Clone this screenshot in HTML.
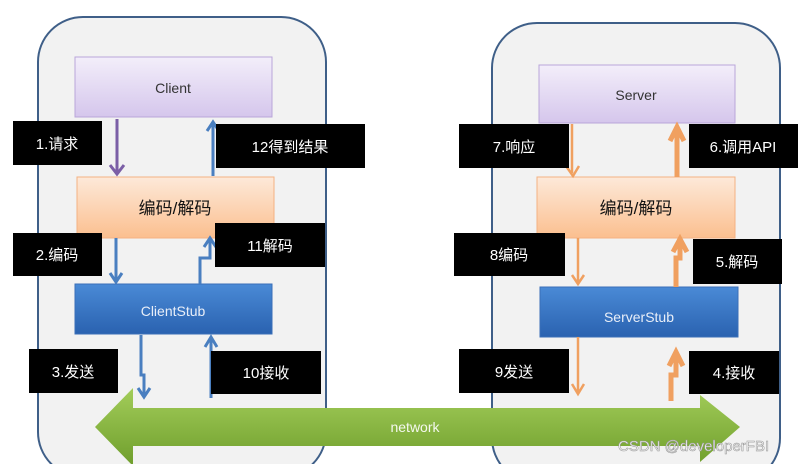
<!DOCTYPE html>
<html><head><meta charset="utf-8"><style>
body{margin:0;background:#fff;width:802px;height:464px;overflow:hidden}
svg text{font-family:"Liberation Sans","Noto Sans CJK SC",sans-serif}
</style></head><body>
<svg width="802" height="464" viewBox="0 0 802 464">
<defs>
<linearGradient id="pu" x1="0" y1="0" x2="0" y2="1"><stop offset="0" stop-color="#f3eefa"/><stop offset="1" stop-color="#d5c6ec"/></linearGradient>
<linearGradient id="or" x1="0" y1="0" x2="0" y2="1"><stop offset="0" stop-color="#fde9d9"/><stop offset="1" stop-color="#fbbf8f"/></linearGradient>
<linearGradient id="bl" x1="0" y1="0" x2="0" y2="1"><stop offset="0" stop-color="#4a8ad6"/><stop offset="1" stop-color="#2a62b0"/></linearGradient>
<linearGradient id="gr" x1="0" y1="0" x2="0" y2="1"><stop offset="0" stop-color="#a3cd5a"/><stop offset="1" stop-color="#6f9e2c"/></linearGradient>
</defs>
<rect x="38" y="17" width="288" height="460" rx="45" fill="#f2f2f2" stroke="#3f5f88" stroke-width="2"/>
<rect x="492" y="23" width="288" height="460" rx="45" fill="#f2f2f2" stroke="#3f5f88" stroke-width="2"/>
<rect x="75" y="57" width="197" height="60" fill="url(#pu)" stroke="#b9a6d9"/>
<rect x="77" y="177" width="197" height="61" fill="url(#or)" stroke="#f4b183"/>
<rect x="75" y="284" width="197" height="50" fill="url(#bl)" stroke="#3a6fb8"/>
<rect x="539" y="65" width="196" height="58" fill="url(#pu)" stroke="#b9a6d9"/>
<rect x="537" y="177" width="198" height="61" fill="url(#or)" stroke="#f4b183"/>
<rect x="540" y="287" width="198" height="50" fill="url(#bl)" stroke="#3a6fb8"/>
<g font-size="14" text-anchor="middle" fill="#333">
<text x="173" y="93">Client</text>
<text x="636" y="100">Server</text>
<text x="175" y="214" font-size="17" fill="#111">编码/解码</text>
<text x="636" y="214" font-size="17" fill="#111">编码/解码</text>
<text x="173" y="316" fill="#e8eef8">ClientStub</text>
<text x="639" y="322" fill="#e8eef8">ServerStub</text>
</g>
<!-- network arrow -->
<polygon points="95,427 133,388 133,408 700,408 700,395 740,427 700,462 700,446 133,446 133,466" fill="url(#gr)"/>
<text x="415" y="432" font-size="14" fill="#f4f8ee" text-anchor="middle">network</text>
<!-- left arrows -->
<g fill="none" stroke-width="3">
<path d="M117 119V172M110 165L117 174L124 165" stroke="#7b5fa6"/>
<path d="M213 176V124M207 131L213 122L219 131" stroke="#4a7fc0"/>
<path d="M116 238V280M110 273L116 282L122 273" stroke="#4a7fc0"/>
<path d="M200 284V258H210V240M204 247L210 238L216 247" stroke="#4a7fc0"/>
<path d="M141 335V375H144V395M138 388L144 397L150 388" stroke="#4a7fc0"/>
<path d="M211 398V340M205 347L211 337L217 347" stroke="#4a7fc0"/>
</g>
<g fill="none" stroke="#f0a060">
<path d="M572 124V173M566 166L573 176L579 166" stroke-width="2.5"/>
<path d="M677 177V132M670 141L677 127L684 141" stroke-width="5"/>
<path d="M578 238V283M572 275L578 284L584 275" stroke-width="2.5"/>
<path d="M676 287V258H680V243M673 252L680 239L687 252" stroke-width="5"/>
<path d="M578 337V393M572 384L578 394L584 384" stroke-width="2.5"/>
<path d="M671 401V375H676V357M669 366L676 352L683 366" stroke-width="5"/>
</g>
<!-- labels -->
<g fill="#000">
<rect x="13" y="121" width="89" height="44"/>
<rect x="216" y="124" width="149" height="44"/>
<rect x="13" y="233" width="89" height="43"/>
<rect x="215" y="223" width="110" height="44"/>
<rect x="29" y="349" width="89" height="44"/>
<rect x="211" y="351" width="110" height="43"/>
<rect x="459" y="124" width="110" height="44"/>
<rect x="689" y="124" width="109" height="44"/>
<rect x="454" y="233" width="111" height="43"/>
<rect x="693" y="239" width="89" height="45"/>
<rect x="459" y="349" width="110" height="44"/>
<rect x="689" y="351" width="90" height="43"/>
</g>
<g fill="#fff" font-size="15" text-anchor="middle">
<text x="57" y="149">1.请求</text>
<text x="290" y="152">12得到结果</text>
<text x="57" y="260">2.编码</text>
<text x="270" y="251">11解码</text>
<text x="73" y="377">3.发送</text>
<text x="266" y="378">10接收</text>
<text x="514" y="152">7.响应</text>
<text x="743" y="152">6.调用API</text>
<text x="509" y="260">8编码</text>
<text x="737" y="267">5.解码</text>
<text x="514" y="377">9发送</text>
<text x="734" y="378">4.接收</text>
</g>
<text x="618" y="451" font-size="15" fill="#fff" stroke="#999" stroke-width="0.6">CSDN @developerFBI</text>
</svg>
</body></html>
